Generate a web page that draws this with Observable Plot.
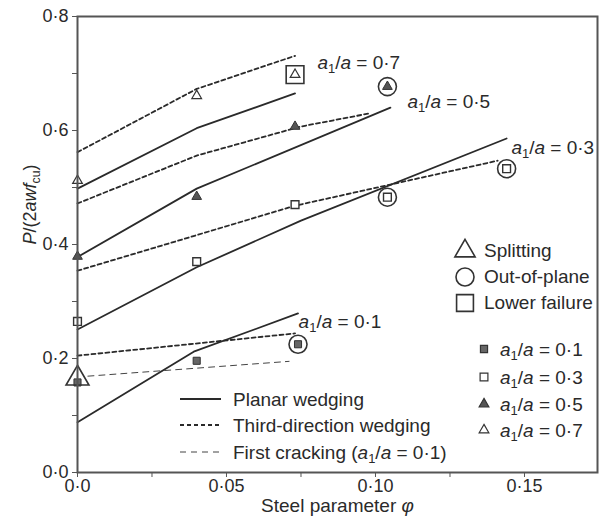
<!DOCTYPE html>
<html><head><meta charset="utf-8">
<script src="https://cdn.jsdelivr.net/npm/d3@7"></script>
<script src="https://cdn.jsdelivr.net/npm/@observablehq/plot@0.6"></script>
<style>
body{margin:0;background:#fff;}
#chart{width:600px;height:523px;}
</style></head><body><div id="chart"></div>
<script>
// ---------- data ----------
const xTicks = [0, 0.05, 0.10, 0.15];
const xMinorTicks = [0.025, 0.075, 0.125];
const yTicks = [0, 0.2, 0.4, 0.6, 0.8];
const yMinorTicks = [0.1, 0.3, 0.5, 0.7];

// Planar wedging (solid)
const planar01Phi = [0, 0.039, 0.074];
const planar01P   = [0.088, 0.212, 0.279];
const planar03Phi = [0, 0.04, 0.075, 0.144];
const planar03P   = [0.251, 0.360, 0.442, 0.586];
const planar05Phi = [0, 0.04, 0.105];
const planar05P   = [0.378, 0.498, 0.640];
const planar07Phi = [0, 0.04, 0.073];
const planar07P   = [0.498, 0.604, 0.665];

// Third-direction wedging (dashed)
const third01Phi = [0, 0.073];
const third01P   = [0.205, 0.244];
const third03Phi = [0, 0.073, 0.141];
const third03P   = [0.354, 0.468, 0.547];
const third05Phi = [0, 0.04, 0.075, 0.098];
const third05P   = [0.472, 0.556, 0.607, 0.630];
const third07Phi = [0, 0.04, 0.073];
const third07P   = [0.562, 0.673, 0.731];

// First cracking (a1/a = 0.1)
const crack01Phi = [0.0035, 0.071];
const crack01P   = [0.169, 0.195];

// Test results
const exp01Phi = [0, 0.04, 0.074];
const exp01P   = [0.158, 0.196, 0.225];
const exp03Phi = [0, 0.04, 0.073, 0.104, 0.144];
const exp03P   = [0.265, 0.370, 0.470, 0.483, 0.533];
const exp05Phi = [0, 0.04, 0.073, 0.104];
const exp05P   = [0.379, 0.484, 0.607, 0.677];
const exp07Phi = [0, 0.04, 0.073];
const exp07P   = [0.512, 0.661, 0.698];

// Failure modes
const splitPhi = [0];
const splitP   = [0.165];
const outPhi   = [0.074, 0.104, 0.144, 0.104];
const outP     = [0.225, 0.483, 0.533, 0.677];
const lowerPhi = [0.073];
const lowerP   = [0.698];

// Curve labels
const labelText = ["a1/a = 0·7", "a1/a = 0·5", "a1/a = 0·3", "a1/a = 0·1"];
const labelPhi  = [0.0805, 0.1107, 0.1456, 0.0742];
const labelP    = [0.719, 0.651, 0.570, 0.265];

const failureNames = ["Splitting", "Out-of-plane", "Lower failure"];
const seriesNames  = ["a1/a = 0·1", "a1/a = 0·3", "a1/a = 0·5", "a1/a = 0·7"];
const lineNames    = ["Planar wedging", "Third-direction wedging", "First cracking (a1/a = 0·1)"];

// ---------- build ----------
const rows = (phi, P, k) => phi.map((x, i) => ({phi: x, P: P[i], k}));
const planar = [...rows(planar01Phi, planar01P, 1), ...rows(planar03Phi, planar03P, 3),
                ...rows(planar05Phi, planar05P, 5), ...rows(planar07Phi, planar07P, 7)];
const third = [...rows(third01Phi, third01P, 1), ...rows(third03Phi, third03P, 3),
               ...rows(third05Phi, third05P, 5), ...rows(third07Phi, third07P, 7)];
const crack = rows(crack01Phi, crack01P, 1);
const labels = labelText.map((t, i) => ({phi: labelPhi[i], P: labelP[i], t}));

const INK = "#2a2a2a";
const FONT = "'Liberation Sans', Arial, Helvetica, sans-serif";
const fmtX = d => d === 0 ? "0·0" : d.toFixed(2).replace(".", "·");
const fmtY = d => d.toFixed(1).replace(".", "·");

const ML = 77, MT = 16, MR = 3, MB = 51;

const plot = Plot.plot({
  width: 600, height: 523,
  marginLeft: ML, marginTop: MT, marginRight: MR, marginBottom: MB,
  style: {fontFamily: FONT, fontSize: "18px", color: INK, background: "white"},
  x: {domain: [0, 0.1745]},
  y: {domain: [0, 0.8]},
  marks: [
    Plot.line(crack, {x: "phi", y: "P", z: "k", stroke: "#444", strokeWidth: 1, strokeDasharray: "6,5"}),
    Plot.line(third, {x: "phi", y: "P", z: "k", stroke: INK, strokeWidth: 1.8, strokeDasharray: "4,3"}),
    Plot.line(planar, {x: "phi", y: "P", z: "k", stroke: INK, strokeWidth: 1.8}),
    Plot.dot(rows(exp01Phi, exp01P), {x: "phi", y: "P", symbol: "square", r: 4, fill: "#666", stroke: "#333", strokeWidth: 1}),
    Plot.dot(rows(exp03Phi, exp03P), {x: "phi", y: "P", symbol: "square", r: 4.4, fill: "white", stroke: "#333", strokeWidth: 1.4}),
    Plot.dot(rows(exp05Phi, exp05P), {x: "phi", y: "P", symbol: "triangle", r: 3.6, fill: "#555", stroke: "#333", strokeWidth: 1}),
    Plot.dot(rows(exp07Phi, exp07P), {x: "phi", y: "P", symbol: "triangle", r: 3.6, fill: "white", stroke: "#333", strokeWidth: 1.2}),
    Plot.dot(rows(splitPhi, splitP), {x: "phi", y: "P", symbol: "triangle", r: 8.5, fill: "none", stroke: "#333", strokeWidth: 1.6}),
    Plot.dot(rows(outPhi, outP), {x: "phi", y: "P", symbol: "circle", r: 9, fill: "none", stroke: "#333", strokeWidth: 1.6}),
    Plot.dot(rows(lowerPhi, lowerP), {x: "phi", y: "P", symbol: "square", r: 10, fill: "none", stroke: "#333", strokeWidth: 1.6}),
    Plot.text(labels, {x: "phi", y: "P", text: "t", textAnchor: "start", fontSize: 19, fill: INK}),
    Plot.frame({stroke: "#555", strokeWidth: 2}),
    Plot.axisX(xTicks, {tickFormat: fmtX, tickSize: 5, tickPadding: 2, label: null, stroke: "#555"}),
    Plot.axisX(xMinorTicks, {tickFormat: () => "", tickSize: 5, label: null, stroke: "#555"}),
    Plot.axisY(yTicks, {tickFormat: fmtY, tickSize: 5, tickPadding: 4, label: null, stroke: "#555"}),
    Plot.axisY(yMinorTicks, {tickFormat: () => "", tickSize: 5, label: null, stroke: "#555"}),
    Plot.text(["Steel parameter φ"], {frameAnchor: "bottom", dy: 39, fontSize: 19, fill: INK}),
    Plot.text(["P/(2awfcu)"], {frameAnchor: "left", dx: -47, rotate: -90, fontSize: 18, fill: INK})
  ]
});

// ---------- legends (pixel layout inside the frame) ----------
const svg = d3.select(plot);
const lg = svg.append("g").attr("font-family", FONT).attr("font-size", 19)
  .attr("fill", INK).attr("text-anchor", "start");
const sym = (type, r) => d3.symbol(type, Math.PI * r * r)();

// failure modes
const fTypes = [d3.symbolTriangle, d3.symbolCircle, d3.symbolSquare];
const fR = [7.5, 9, 9.5];
const fY = [251, 277, 303];
failureNames.forEach((name, i) => {
  lg.append("path").attr("d", sym(fTypes[i], fR[i])).attr("transform", `translate(465,${fY[i]})`)
    .attr("fill", "none").attr("stroke", "#333").attr("stroke-width", 1.6);
  lg.append("text").attr("x", 484).attr("y", fY[i] - 1).attr("dy", "0.35em").text(name);
});
// series markers
const sTypes = [d3.symbolSquare, d3.symbolSquare, d3.symbolTriangle, d3.symbolTriangle];
const sR = [4, 4.4, 3.6, 3.6];
const sFill = ["#666", "white", "#555", "white"];
const sY = [349, 377, 404, 430];
seriesNames.forEach((name, i) => {
  lg.append("path").attr("d", sym(sTypes[i], sR[i])).attr("transform", `translate(484,${sY[i]})`)
    .attr("fill", sFill[i]).attr("stroke", "#333").attr("stroke-width", 1.2);
  lg.append("text").attr("x", 500).attr("y", sY[i]).attr("dy", "0.35em").text(name);
});
// line styles
const lDash = [null, "4,3", "6,5"];
const lW = [1.8, 1.8, 1];
const lY = [399, 425, 452];
lineNames.forEach((name, i) => {
  lg.append("line").attr("x1", 180).attr("x2", 221).attr("y1", lY[i]).attr("y2", lY[i])
    .attr("stroke", i === 2 ? "#444" : INK).attr("stroke-width", lW[i]).attr("stroke-dasharray", lDash[i]);
  lg.append("text").attr("x", 233).attr("y", lY[i]).attr("dy", "0.35em").text(name);
});

// ---------- rich text (italics / subscripts) ----------
function rich(el, parts) {
  const t = d3.select(el);
  t.text(null);
  let shifted = false;
  for (const [s, st] of parts) {
    const ts = t.append("tspan").text(s);
    if (st.includes("i")) ts.attr("font-style", "italic");
    if (st.includes("s")) { ts.attr("font-size", "0.68em").attr("dy", 4); shifted = true; }
    else if (shifted) { ts.attr("dy", -4); shifted = false; }
  }
}
svg.selectAll("text").each(function() {
  const s = this.textContent;
  if (s.includes("a1/a")) {
    const [pre, post] = s.split("a1/a");
    rich(this, [[pre, ""], ["a", "i"], ["1", "s"], ["/", ""], ["a", "i"], [post, ""]]);
  } else if (s === "P/(2awfcu)") {
    rich(this, [["P", "i"], ["/(2", ""], ["awf", "i"], ["cu", "s"], [")", ""]]);
  } else if (s === "Steel parameter φ") {
    rich(this, [["Steel parameter ", ""], ["φ", "i"]]);
  }
});

document.getElementById("chart").appendChild(plot);
</script>
</body></html>
